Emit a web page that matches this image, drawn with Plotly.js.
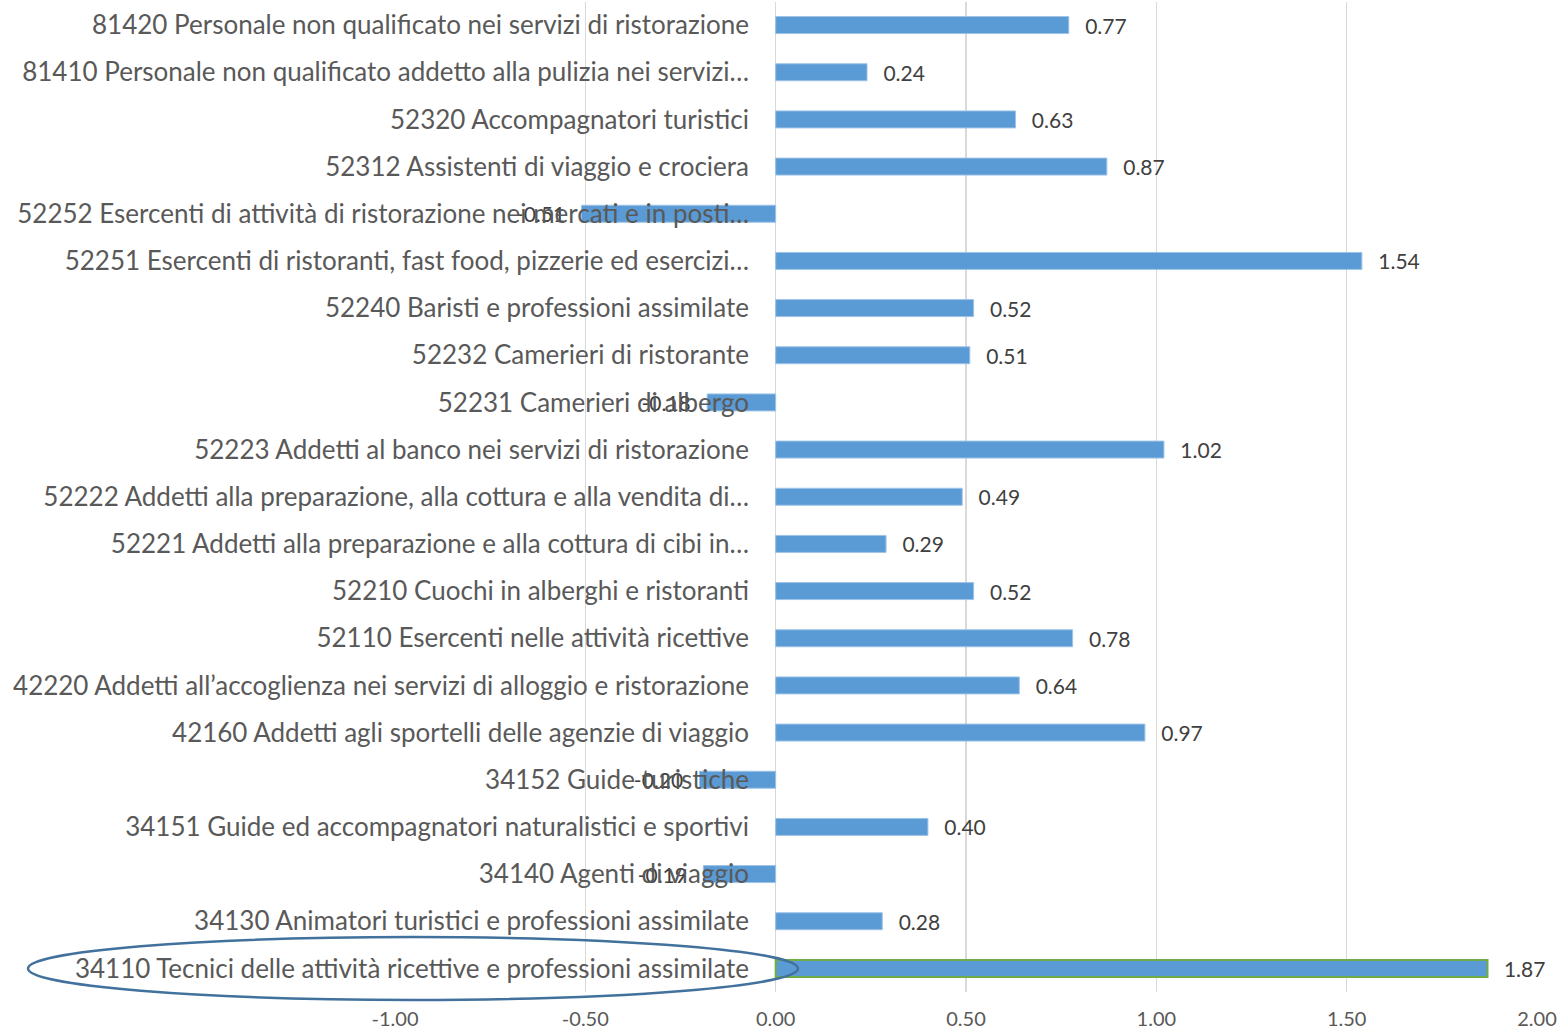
<!DOCTYPE html>
<html>
<head>
<meta charset="utf-8">
<script src="https://cdn.plot.ly/plotly-3.0.1.min.js"></script>
<style>html,body{margin:0;padding:0;background:#fff;}#chart{width:1559px;height:1032px;}</style>
</head>
<body>
<div id="chart"></div>
<script>
// Categories, top to bottom as shown
const categories = [
  "81420 Personale non qualificato nei servizi di ristorazione",
  "81410 Personale non qualificato addetto alla pulizia nei servizi…",
  "52320 Accompagnatori turistici",
  "52312 Assistenti di viaggio e crociera",
  "52252 Esercenti di attività di ristorazione nei mercati e in posti…",
  "52251 Esercenti di ristoranti, fast food, pizzerie ed esercizi…",
  "52240 Baristi e professioni assimilate",
  "52232 Camerieri di ristorante",
  "52231 Camerieri di albergo",
  "52223 Addetti al banco nei servizi di ristorazione",
  "52222 Addetti alla preparazione, alla cottura e alla vendita di…",
  "52221 Addetti alla preparazione e alla cottura di cibi in…",
  "52210 Cuochi in alberghi e ristoranti",
  "52110 Esercenti nelle attività ricettive",
  "42220 Addetti all’accoglienza nei servizi di alloggio e ristorazione",
  "42160 Addetti agli sportelli delle agenzie di viaggio",
  "34152 Guide turistiche",
  "34151 Guide ed accompagnatori naturalistici e sportivi",
  "34140 Agenti di viaggio",
  "34130 Animatori turistici e professioni assimilate",
  "34110 Tecnici delle attività ricettive e professioni assimilate"
];
const values = [0.77, 0.24, 0.63, 0.87, -0.51, 1.54, 0.52, 0.51, -0.18, 1.02, 0.49, 0.29, 0.52, 0.78, 0.64, 0.97, -0.20, 0.40, -0.19, 0.28, 1.87];
const highlighted = "34110 Tecnici delle attività ricettive e professioni assimilate";
const xTickVals = [-1, -0.5, 0, 0.5, 1, 1.5, 2];
const xTickText = ["-1.00", "-0.50", "0.00", "0.50", "1.00", "1.50", "2.00"];

const W = 1559, H = 1032;
const PAD = "\u00a0\u00a0\u2009";
const labels = values.map(v => v < 0 ? v.toFixed(2) + PAD : PAD + v.toFixed(2));
const lineColors = categories.map(c => c === highlighted ? "#70ad47" : "#9dc3e6");
const lineWidths = categories.map(c => c === highlighted ? 2 : 1);

const trace = {
  type: "bar",
  orientation: "h",
  y: categories,
  x: values,
  text: labels,
  textposition: "outside",
  constraintext: "none",
  cliponaxis: false,
  textfont: {family: "Lato, 'Open Sans', sans-serif", size: 21, color: "#404040"},
  marker: {color: "#5b9bd5", line: {color: lineColors, width: lineWidths}},
  hoverinfo: "x+y"
};

const x0px = 395, x1px = 1537, topPx = 1.5, bottomPx = 992;
const layout = {
  width: W, height: H,
  margin: {l: 0, r: 0, t: 0, b: 0},
  paper_bgcolor: "#ffffff",
  plot_bgcolor: "#ffffff",
  showlegend: false,
  bargap: 0.64,
  font: {family: "Lato, 'Open Sans', sans-serif", color: "#595959"},
  xaxis: {
    domain: [x0px / W, x1px / W],
    range: [-1, 2],
    tickvals: xTickVals,
    ticktext: xTickText,
    showgrid: true, gridcolor: "#d9d9d9", gridwidth: 1.5,
    zeroline: true, zerolinecolor: "#d9d9d9", zerolinewidth: 1.5,
    showline: false, ticks: "",
    ticklabelstandoff: 13,
    tickfont: {size: 20, color: "#595959"}
  },
  yaxis: {
    domain: [1 - bottomPx / H, 1 - topPx / H],
    autorange: "reversed",
    type: "category",
    anchor: "free",
    position: 776 / W,
    showgrid: false, zeroline: false, showline: false, ticks: "",
    ticklabelstandoff: 27,
    tickfont: {size: 26, color: "#595959"}
  },
  shapes: [{
    type: "circle", xref: "paper", yref: "paper",
    x0: 28 / W, x1: 798 / W, y0: 1 - 1000 / H, y1: 1 - 937 / H,
    line: {color: "#41719c", width: 2.5},
    layer: "above"
  }]
};

Plotly.newPlot("chart", [trace], layout, {displayModeBar: false, staticPlot: true});
</script>
</body>
</html>
